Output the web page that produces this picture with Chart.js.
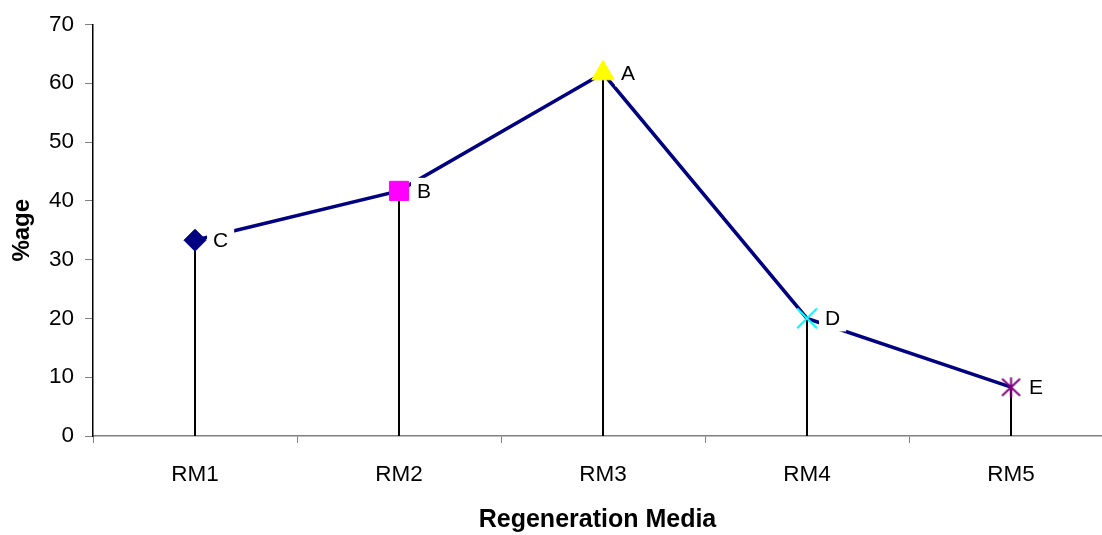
<!DOCTYPE html>
<html>
<head>
<meta charset="utf-8">
<script src="https://cdn.jsdelivr.net/npm/chart.js@4"></script>
<style>
  html, body { margin: 0; padding: 0; background: #fff; overflow: hidden; }
  #wrap { width: 1102px; height: 535px; }
</style>
</head>
<body>
<div id="wrap"><canvas id="chart"></canvas></div>
<script>
(function(){
    "use strict";

    const categories = ['RM1', 'RM2', 'RM3', 'RM4', 'RM5'];
    const values = [33.3, 41.7, 61.7, 20, 8.3];
    const pointLabels = ['C', 'B', 'A', 'D', 'E'];
    const yTicks = [0, 10, 20, 30, 40, 50, 60, 70];

    const FONT = 'Arial, "Liberation Sans", sans-serif';

    // excel style star: an x with a vertical bar
    function starMarker(color) {
        const c = document.createElement('canvas');
        c.width = 21; c.height = 21;
        const ctx = c.getContext('2d');
        ctx.strokeStyle = color;
        ctx.lineWidth = 2;
        ctx.beginPath();
        ctx.moveTo(1.5, 2); ctx.lineTo(19.5, 19);
        ctx.moveTo(19.5, 2); ctx.lineTo(1.5, 19);
        ctx.moveTo(10.5, 0.5); ctx.lineTo(10.5, 20.5);
        ctx.stroke();
        return c;
    }

    const dropLines = {
        id: 'dropLines',
        beforeDatasetsDraw(chart) {
            const ctx = chart.ctx;
            const meta = chart.getDatasetMeta(0);
            const base = chart.scales.y.getPixelForValue(0);
            ctx.save();
            ctx.strokeStyle = '#000';
            ctx.lineWidth = 2;
            meta.data.forEach(pt => {
                ctx.beginPath();
                ctx.moveTo(pt.x, pt.y);
                ctx.lineTo(pt.x, base);
                ctx.stroke();
            });
            ctx.restore();
        }
    };

    const letterLabels = {
        id: 'letterLabels',
        afterDatasetsDraw(chart) {
            const ctx = chart.ctx;
            const meta = chart.getDatasetMeta(0);
            ctx.save();
            ctx.font = '21px ' + FONT;
            ctx.textBaseline = 'middle';
            meta.data.forEach((pt, i) => {
                const txt = pointLabels[i];
                const w = ctx.measureText(txt).width;
                ctx.fillStyle = '#fff';
                ctx.fillRect(pt.x + 12, pt.y - 13, w + 12, 26);
                ctx.fillStyle = '#000';
                ctx.fillText(txt, pt.x + 18, pt.y + 1);
            });
            ctx.restore();
        }
    };

    new Chart(document.getElementById('chart'), {
        type: 'line',
        data: {
            datasets: [{
                data: values.map((v, i) => ({ x: i + 1, y: v })),
                borderColor: '#000080',
                borderWidth: 3.5,
                tension: 0,
                fill: false,
                pointStyle: ['rectRot', 'rect', 'triangle', 'crossRot', starMarker('#800080')],
                pointRadius: [11, 13.5, 13, 14, 10],
                pointHoverRadius: [11, 13.5, 13, 14, 10],
                pointBackgroundColor: ['#000080', '#ff00ff', '#ffff00', '#00ffff', '#800080'],
                pointBorderColor: ['#000080', '#ff00ff', '#ffff00', '#00ffff', '#800080'],
                pointBorderWidth: [1, 1, 1, 2, 2]
            }]
        },
        options: {
            responsive: true,
            maintainAspectRatio: false,
            animation: false,
            layout: {
                autoPadding: false,
                padding: { top: 23, right: 0, left: 0, bottom: 0 }
            },
            plugins: {
                legend: { display: false },
                tooltip: { enabled: false }
            },
            scales: {
                x: {
                    type: 'linear',
                    // the original is cropped a little before the last category ends
                    min: 0.5,
                    max: 5.446,
                    afterBuildTicks(scale) {
                        scale.ticks = categories.map((c, i) => ({ value: i + 1 }));
                    },
                    grid: {
                        display: true,
                        drawOnChartArea: false,
                        tickLength: 7,
                        color: '#808080',
                        offset: true
                    },
                    border: { color: '#808080', width: 1.5 },
                    ticks: {
                        color: '#000',
                        padding: 18,
                        autoSkip: false,
                        maxRotation: 0,
                        font: { family: FONT, size: 22.5 },
                        callback: (v) => categories[v - 1]
                    },
                    title: {
                        display: true,
                        text: 'Regeneration Media',
                        color: '#000',
                        font: { family: FONT, size: 25, weight: 'bold' },
                        padding: { top: 12, bottom: 0 }
                    },
                    afterFit(scale) { scale.height = 99; }
                },
                y: {
                    min: 0,
                    max: 70,
                    afterBuildTicks(scale) {
                        scale.ticks = yTicks.map(v => ({ value: v }));
                    },
                    grid: {
                        display: true,
                        drawOnChartArea: false,
                        tickLength: 8,
                        color: '#808080'
                    },
                    border: { color: '#000', width: 1.5 },
                    ticks: {
                        color: '#000',
                        padding: 11,
                        font: { family: FONT, size: 22.5 }
                    },
                    title: {
                        display: true,
                        text: '%age',
                        color: '#000',
                        font: { family: FONT, size: 24, weight: 'bold' },
                        padding: { top: 8, bottom: 8 }
                    },
                    afterFit(scale) { scale.width = 93; }
                }
            }
        },
        plugins: [dropLines, letterLabels]
    });
})();
</script>
</body>
</html>
